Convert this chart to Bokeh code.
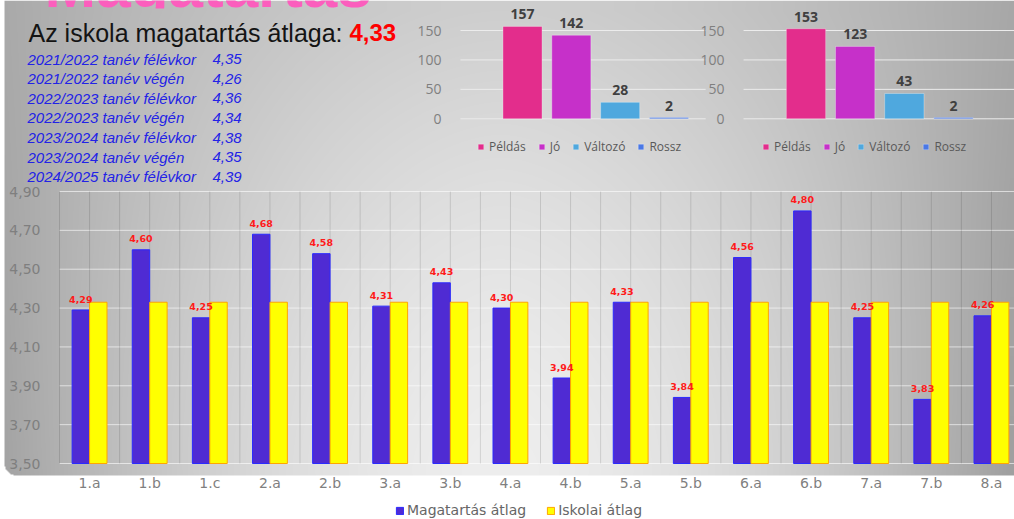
import numpy as np
from bokeh.plotting import figure
from bokeh.models import (Range1d, LinearAxis, FixedTicker, CustomJSTickFormatter,
                          ColumnDataSource, Legend, LegendItem)
from bokeh.core.properties import value
from bokeh.embed import file_html
from bokeh.resources import INLINE

# ---------------- data ----------------
title_text = "Magatartás"
classes = ["1.a", "1.b", "1.c", "2.a", "2.b", "3.a", "3.b", "4.a",
           "4.b", "5.a", "5.b", "6.a", "6.b", "7.a", "7.b", "8.a"]
behaviour_avg = [4.29, 4.60, 4.25, 4.68, 4.58, 4.31, 4.43, 4.30,
                 3.94, 4.33, 3.84, 4.56, 4.80, 4.25, 3.83, 4.26]
school_avg = 4.33
y_ticks = [3.50, 3.70, 3.90, 4.10, 4.30, 4.50, 4.70, 4.90]

grades = ["Példás", "Jó", "Változó", "Rossz"]
grade_colors = ["#e32d8c", "#c630c9", "#4fa8de", "#4a78e6"]
counts_left = [157, 142, 28, 2]
counts_right = [153, 123, 43, 2]
count_ticks = [0, 50, 100, 150]

periods = ["2021/2022 tanév félévkor", "2021/2022 tanév végén",
           "2022/2023 tanév félévkor", "2022/2023 tanév végén",
           "2023/2024 tanév félévkor", "2023/2024 tanév végén",
           "2024/2025 tanév félévkor"]
period_avgs = [4.35, 4.26, 4.36, 4.34, 4.38, 4.35, 4.39]


def hu(v, d=2):
    return f"{v:.{d}f}".replace(".", ",")


# ---------------- geometry helpers ----------------
W, H = 1014, 519


def xrange_for(v0, x0, v1, x1):
    k = (v1 - v0) / (x1 - x0)
    return Range1d(v0 - x0 * k, v0 + (W - x0) * k)


def yrange_for(v0, y0, v1, y1):
    k = (v1 - v0) / (y0 - y1)
    return Range1d(v0 - (H - y0) * k, v0 + y0 * k)


def Y(ypix):
    return H - ypix


p = figure(width=W, height=H, x_range=Range1d(0, W), y_range=Range1d(0, H),
           x_axis_type=None, y_axis_type=None, min_border=0, title=None,
           toolbar_location=None, output_backend="svg",
           outline_line_color=None, background_fill_color="white",
           border_fill_color="white")

p.extra_x_ranges = {
    "mx": xrange_for(0, 59, 16, 1021),
    "s1x": xrange_for(0, 522, 3, 668.5),
    "s2x": xrange_for(0, 805.5, 3, 953),
}
p.extra_y_ranges = {
    "my": yrange_for(3.5, 463, 4.9, 191),
    "sy": yrange_for(0, 118.3, 150, 30),
}

# ---------------- background panel gradient ----------------
yy, xx = np.mgrid[0:H, 0:W]
xr = xx + 0.5
yr = H - (yy + 0.5)          # pixel row from the top
dx = np.clip(np.abs(xr - 500) / 510, 0, 1)
dy = np.clip(np.abs(yr - 470) / 460, 0, 1)
fx = dx ** 1.7
shade = 238 - 70 * fx - 32 * dy ** 1.5 * (1 - fx) - 8 * fx * np.clip(yr / 475, 0, 1)
inside = (xr >= 4) & (yr <= 475)
corner = (xr < 16) & (yr > 463) & ((xr - 16) ** 2 + (yr - 463) ** 2 > 144)
inside &= ~corner
img = np.zeros((H, W, 4), dtype=np.uint8)
img[..., 0] = shade
img[..., 1] = shade
img[..., 2] = shade
img[..., 3] = np.where(inside, 255, 0)
p.image_rgba(image=[img.view(np.uint32).reshape(H, W)], x=0, y=0, dw=W, dh=H)

# big pink title, mostly above the page (only its lower edge shows)
p.text(x=[44], y=[Y(-15)], text=[title_text],
       text_font=value("Liberation Sans"), text_font_size="62px", text_font_style="bold",
       text_color="#fb5ebd", text_baseline="middle")
# background band re-drawn over the title's descender area
band = img.copy()
band_mask = (yr > 8) & (yr < 24) & (xr > 30) & (xr < 420)
band[..., 3] = np.where(band_mask & inside, 255, 0)
p.image_rgba(image=[band.view(np.uint32).reshape(H, W)], x=0, y=0, dw=W, dh=H)

# ---------------- top-left texts ----------------
p.text(x=[28], y=[Y(32)], text=["Az iskola magatartás átlaga:"],
       text_font=value("Liberation Sans"), text_font_size="25px",
       text_color="#141414", text_baseline="middle")
p.text(x=[349], y=[Y(32)], text=[hu(school_avg)],
       text_font=value("Liberation Sans"), text_font_size="24px", text_font_style="bold",
       text_color="#ff0000", text_baseline="middle")
row_y = [Y(58.6 + 19.6 * i) for i in range(len(periods))]
p.text(x=[27] * len(periods), y=row_y, text=periods,
       text_font=value("Liberation Sans"), text_font_size="15px", text_font_style="italic",
       text_color="#2222e6", text_baseline="middle")
p.text(x=[212] * len(periods), y=row_y, text=[hu(v) for v in period_avgs],
       text_font=value("Liberation Sans"), text_font_size="15px", text_font_style="italic",
       text_color="#2222e6", text_baseline="middle")

# ---------------- main chart ----------------
n = len(classes)
xc = np.arange(n) + 0.5
bw = 0.29
main = ColumnDataSource(dict(cls=classes, xb=xc - bw / 2, xy=xc + bw / 2,
                             val=behaviour_avg, school=[school_avg] * n,
                             lab=[hu(v) for v in behaviour_avg]))

p.segment(x0=0, x1=n, y0=y_ticks, y1=y_ticks, x_range_name="mx", y_range_name="my",
          line_color="white", line_alpha=0.6, line_width=1)
vx = np.arange(0, n + 0.5, 0.5)
p.segment(x0=vx, x1=vx, y0=y_ticks[0], y1=y_ticks[-1], x_range_name="mx", y_range_name="my",
          line_color="black", line_alpha=0.12, line_width=1)

r_blue = p.vbar(x="xb", width=bw, bottom=y_ticks[0], top="val", source=main,
                x_range_name="mx", y_range_name="my",
                fill_color="#4f2bd3", line_color="#2a2aff", line_width=1)
r_yel = p.vbar(x="xy", width=bw, bottom=y_ticks[0], top="school", source=main,
               x_range_name="mx", y_range_name="my",
               fill_color="#ffff00", line_color="#ffa500", line_width=1)
p.text(x="xb", y="val", text="lab", source=main, x_range_name="mx", y_range_name="my",
       y_offset=-11, text_align="center", text_baseline="middle",
       text_font=value("DejaVu Sans"), text_font_size="9.5px", text_font_style="bold",
       text_color="#ff1a1a")

ax_y = LinearAxis(x_range_name="mx", y_range_name="my", fixed_location=0,
                  ticker=FixedTicker(ticks=y_ticks, minor_ticks=[]),
                  formatter=CustomJSTickFormatter(code="return tick.toFixed(2).replace('.', ',')"),
                  axis_line_color=None, major_tick_line_color=None, minor_tick_line_color=None,
                  major_label_standoff=13, major_label_text_font="DejaVu Sans",
                  major_label_text_font_size="14px", major_label_text_color="#7f7f7f")
p.add_layout(ax_y, "left")
ax_x = LinearAxis(x_range_name="mx", y_range_name="my", fixed_location=y_ticks[0],
                  ticker=FixedTicker(ticks=list(xc), minor_ticks=[]),
                  formatter=CustomJSTickFormatter(args=dict(labels=classes),
                                                  code="return labels[Math.floor(tick)]"),
                  axis_line_color=None, major_tick_line_color=None, minor_tick_line_color=None,
                  major_label_standoff=5, major_label_text_font="DejaVu Sans",
                  major_label_text_font_size="14px", major_label_text_color="#7f7f7f")
p.add_layout(ax_x, "below")

main_leg = Legend(items=[LegendItem(label="Magatartás átlag", renderers=[r_blue]),
                         LegendItem(label="Iskolai átlag", renderers=[r_yel])],
                  orientation="horizontal", location=(395, 0),
                  glyph_width=9, glyph_height=9, label_height=18, label_width=0,
                  label_standoff=3, spacing=20, padding=0, margin=0,
                  label_text_font="DejaVu Sans", label_text_font_size="14px",
                  label_text_color="#666666", background_fill_alpha=0,
                  border_line_color=None)
p.add_layout(main_leg)

# ---------------- small charts ----------------
for name, counts, legx in [("s1x", counts_left, 477), ("s2x", counts_right, 762)]:
    gx0, gx1 = -1.27, (3.75 if name == "s1x" else 4.6)
    p.segment(x0=gx0, x1=gx1, y0=count_ticks, y1=count_ticks, x_range_name=name,
              y_range_name="sy", line_color="#ececec", line_width=1)
    src = ColumnDataSource(dict(g=grades, x=list(range(len(grades))), c=counts,
                                col=grade_colors, lab=[str(v) for v in counts]))
    r = p.vbar(x="x", width=0.8, bottom=0, top="c", source=src, fill_color="col",
               line_color="white", line_alpha=0.3, x_range_name=name, y_range_name="sy")
    p.text(x="x", y="c", text="lab", source=src, x_range_name=name, y_range_name="sy",
           y_offset=-12, text_align="center", text_baseline="middle",
           text_font=value("Open Sans"), text_font_size="14px", text_font_style="bold",
           text_color="#404040")
    ax = LinearAxis(x_range_name=name, y_range_name="sy", fixed_location=gx0,
                    ticker=FixedTicker(ticks=count_ticks, minor_ticks=[]),
                    axis_line_color=None, major_tick_line_color=None, minor_tick_line_color=None,
                    major_label_standoff=13, major_label_text_font="Open Sans",
                    major_label_text_font_size="14px", major_label_text_color="#7f7f7f")
    p.add_layout(ax, "left")
    leg = Legend(items=[LegendItem(label=g, renderers=[r], index=i) for i, g in enumerate(grades)],
                 orientation="horizontal", location=(legx, 364),
                 glyph_width=7, glyph_height=7, label_height=16, label_width=0,
                 label_standoff=5, spacing=12, padding=0, margin=0,
                 label_text_font="Open Sans", label_text_font_size="12px",
                 label_text_color="#595959", background_fill_alpha=0,
                 border_line_color=None)
    p.add_layout(leg)

open("out.html", "w").write(file_html(p, INLINE))
